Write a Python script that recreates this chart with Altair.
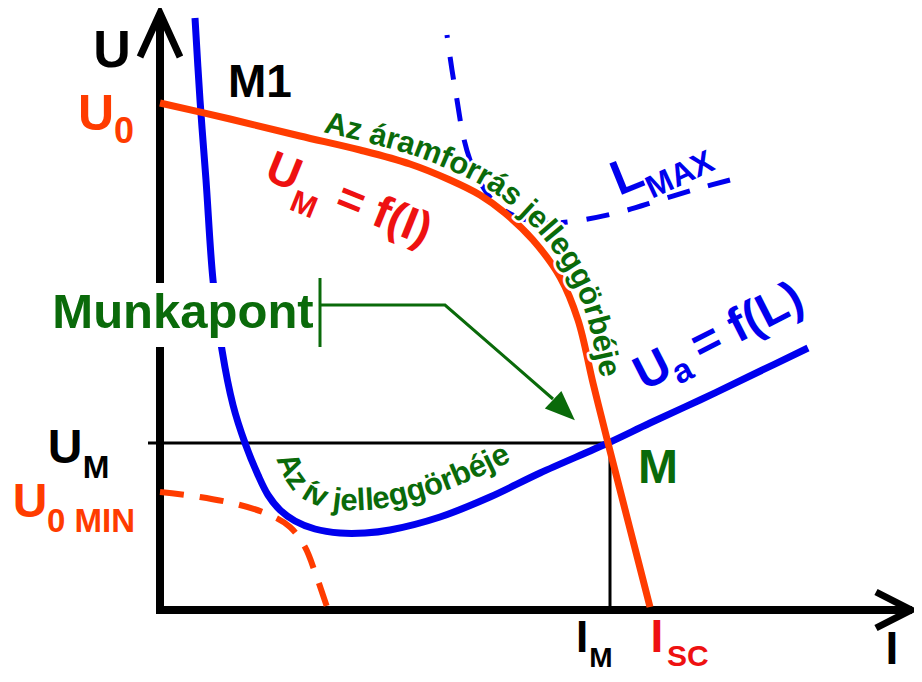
import math
import altair as alt
import pandas as pd

# ---------------- data (schematic units: I = current, U = voltage) ----------------
# power-source characteristic U_M = f(I)
src_I = [0, 70, 140, 200, 250, 290, 320, 345, 373, 400, 418, 433, 448, 469, 490]
src_U = [507, 491, 474, 460, 446, 430, 415, 397, 370, 333, 290, 227, 167, 85, 3]
# arc characteristic U_a = f(L)
arc_I = [35, 40, 46, 53, 62, 73, 85, 98, 108, 120, 135, 155, 180, 205, 230, 280, 330, 380, 448, 490, 540, 590, 648]
arc_U = [592, 510, 430, 330, 260, 205, 167, 135, 115, 100, 89, 81, 77, 77, 80, 93, 113, 137, 167, 187, 210, 234, 262]
# dashed: source characteristic at U0 MIN
u0min_I = [0, 40, 80, 110, 130, 145, 156, 168]
u0min_U = [118, 113, 105, 95, 83, 63, 35, 0]
# dashed: arc characteristic at L_MAX
lmax_I = [287, 292, 297, 303, 310, 320, 335, 355, 383, 415, 460, 500, 540, 570]
lmax_U = [575, 540, 510, 475, 450, 428, 407, 394, 387, 389, 398, 410, 422, 430]
# working point M
work_I = 448
work_U = 167

X0, X1 = -152, 754
Y0, Y1 = -64, 602
W, H = 906, 666
FONT = "Liberation Sans, Arial, sans-serif"
GREEN = "#0a6a0a"
BLUE = "#0000ee"
ORANGE = "#ff3c00"
RED = "#ee1111"

xs = alt.Scale(domain=[X0, X1], nice=False, zero=False)
ys = alt.Scale(domain=[Y0, Y1], nice=False, zero=False)


def line_layer(I, U, color, width, dash=None, interp="linear", cap="butt", dash_offset=None):
    df = pd.DataFrame({"I": I, "U": U, "o": list(range(len(I)))})
    kw = dict(color=color, strokeWidth=width, interpolate=interp, strokeCap=cap, strokeJoin="miter")
    if dash:
        kw["strokeDash"] = dash
    if dash_offset is not None:
        kw["strokeDashOffset"] = dash_offset
    return alt.Chart(df).mark_line(**kw).encode(
        x=alt.X("I:Q", scale=xs, axis=None),
        y=alt.Y("U:Q", scale=ys, axis=None),
        order="o:Q",
    )


def text_layer(rows, align="center", halo=False):
    df = pd.DataFrame(rows, columns=["I", "U", "t", "c", "s", "a"])
    kw = dict(align=align, baseline="alphabetic", font=FONT, fontWeight="bold")
    if halo:
        kw.update(stroke="white", strokeWidth=5, strokeJoin="round")
    return alt.Chart(df).mark_text(**kw).encode(
        x=alt.X("I:Q", scale=xs, axis=None),
        y=alt.Y("U:Q", scale=ys, axis=None),
        text=alt.Text("t:N"),
        color=alt.Color("c:N", scale=None),
        size=alt.Size("s:Q", scale=None),
        angle=alt.Angle("a:Q", scale=None),
    )


def px(x, y):
    """page pixel -> data units"""
    return x - 160, 610 - y


# ---------- geometry helpers ----------
def catmull(pts, n=16):
    P = [pts[0]] + pts + [pts[-1]]
    out = []
    for i in range(1, len(P) - 2):
        p0, p1, p2, p3 = P[i - 1], P[i], P[i + 1], P[i + 2]
        for k in range(n):
            t = k / n
            t2, t3 = t * t, t * t * t
            c = []
            for j in range(2):
                c.append(0.5 * (2 * p1[j] + (-p0[j] + p2[j]) * t
                                + (2 * p0[j] - 5 * p1[j] + 4 * p2[j] - p3[j]) * t2
                                + (-p0[j] + 3 * p1[j] - 3 * p2[j] + p3[j]) * t3))
            out.append(tuple(c))
    out.append(pts[-1])
    return out


def curve_len(I, U):
    d = catmull([(i, -u) for i, u in zip(I, U)], 24)
    return sum(math.hypot(d[k][0] - d[k - 1][0], d[k][1] - d[k - 1][1]) for k in range(1, len(d)))


WID = {" ": 278, "A": 722, "z": 500, "á": 556, "r": 389, "a": 556, "m": 889, "f": 333,
       "o": 611, "s": 556, "j": 278, "e": 556, "l": 278, "g": 611, "ö": 611, "b": 611,
       "é": 556, "í": 278, "v": 556}


def text_on_curve(I, U, d, text, fs, start, end, color):
    pts = [(i, -u) for i, u in zip(I, U)]
    dense = catmull(pts, 24)
    off = []
    for k in range(len(dense)):
        a = dense[max(k - 1, 0)]
        b = dense[min(k + 1, len(dense) - 1)]
        tx, ty = b[0] - a[0], b[1] - a[1]
        nn = math.hypot(tx, ty) or 1
        nx, ny = ty / nn, -tx / nn
        off.append((dense[k][0] + d * nx, dense[k][1] + d * ny))
    cum = [0.0]
    for k in range(1, len(off)):
        cum.append(cum[-1] + math.hypot(off[k][0] - off[k - 1][0], off[k][1] - off[k - 1][1]))
    s0 = next(cum[k] for k in range(len(off)) if start(off[k][0] + 160, off[k][1] + 610))
    s1 = next(cum[k] for k in range(len(off)) if end(off[k][0] + 160, off[k][1] + 610))
    widths = [WID.get(ch, 556) * fs / 1000 for ch in text]
    scale = (s1 - s0) / sum(widths)
    rows = []
    acc = 0.0
    for ch, w in zip(text, widths):
        s = s0 + (acc + w / 2) * scale
        acc += w
        if ch == " ":
            continue
        k = max(1, min(len(cum) - 1, next((j for j in range(len(cum)) if cum[j] >= s), len(cum) - 1)))
        f = (s - cum[k - 1]) / ((cum[k] - cum[k - 1]) or 1)
        x = off[k - 1][0] + f * (off[k][0] - off[k - 1][0])
        y = off[k - 1][1] + f * (off[k][1] - off[k - 1][1])
        ang = math.degrees(math.atan2(off[k][1] - off[k - 1][1], off[k][0] - off[k - 1][0])) % 360
        rows.append((x, -y, ch, color, fs, ang))
    return rows


layers = []

# axes
layers.append(line_layer([0, 0], [-4, 596], "black", 8))
layers.append(line_layer([-4, 752], [0, 0], "black", 8))
layers.append(line_layer([-20, 0, 20], [553, 597, 553], "black", 7))
layers.append(line_layer([716, 751, 716], [18, 0, -18], "black", 7))

# reference lines of the working point
layers.append(line_layer([-12, work_I], [work_U, work_U], "black", 3))
layers.append(line_layer([work_I + 2, work_I + 2], [work_U, 0], "black", 3))

# curves
layers.append(line_layer(arc_I, arc_U, BLUE, 7, interp="catmull-rom"))
layers.append(line_layer(u0min_I, u0min_U, ORANGE, 6, dash=[24, 16], interp="catmull-rom"))
L_lmax = curve_len(lmax_I, lmax_U)
layers.append(line_layer(lmax_I, lmax_U, BLUE, 5, dash=[23, 19], interp="catmull-rom",
                         dash_offset=round((23 - L_lmax) % 42, 1)))
layers.append(line_layer(src_I, src_U, ORANGE, 7, interp="catmull-rom"))

# white box behind "Munkapont"
box = pd.DataFrame({"I": [-115], "I2": [158], "U": [263], "U2": [327]})
layers.append(alt.Chart(box).mark_rect(color="white").encode(
    x=alt.X("I:Q", scale=xs, axis=None), x2="I2:Q",
    y=alt.Y("U:Q", scale=ys, axis=None), y2="U2:Q"))

# green pointer
layers.append(line_layer([160, 160], [332, 263], GREEN, 3))
layers.append(line_layer([160, 285, 393], [305, 305, 211], GREEN, 3))
tri = pd.DataFrame({"I": [404], "U": [200]})
layers.append(alt.Chart(tri).mark_point(shape="M0,-1L0.8,1L-0.8,1Z", filled=True, size=900,
                                        color=GREEN, opacity=1, angle=133.5).encode(
    x=alt.X("I:Q", scale=xs, axis=None), y=alt.Y("U:Q", scale=ys, axis=None)))

# curved labels
src_txt = text_on_curve(src_I, src_U, 9, "Az áramforrás jelleggörbéje", 31,
                        lambda x, y: x >= 321, lambda x, y: y >= 376, GREEN)
layers.append(text_layer(src_txt, halo=True))
layers.append(text_layer(src_txt))
arc_txt = text_on_curve(arc_I, arc_U, 23, "Az ív jelleggörbéje", 31,
                        lambda x, y: y >= 458, lambda x, y: x >= 510, GREEN)
layers.append(text_layer(arc_txt))


def lab(x, y, t, c, s, a=0):
    i, u = px(x, y)
    return (i, u, t, c, s, a)


center_rows = [
    lab(112, 67, "U", "black", 52),
    lab(260, 97, "M1", "black", 46),
    lab(96, 130, "U", ORANGE, 50),
    lab(124, 143, "0", ORANGE, 36),
    lab(183, 328, "Munkapont", GREEN, 49),
    lab(65, 463, "U", "black", 48),
    lab(96, 478, "M", "black", 32),
    lab(30, 517, "U", ORANGE, 48),
    lab(658, 483, "M", GREEN, 48),
    lab(582, 652, "I", "black", 44),
    lab(601, 667, "M", "black", 28),
    lab(657, 652, "I", RED, 46),
    lab(892, 664, "I", "black", 46),
]
left_rows = [
    lab(47, 532, "0 MIN", ORANGE, 33),
    lab(667, 666, "SC", RED, 30),
    lab(263, 179, "U", RED, 46, 22),
    lab(288, 209, "M", RED, 31, 22),
    lab(333, 209, "= f(I)", RED, 46, 22),
    lab(619, 196, "L", BLUE, 49, 338),
    lab(652, 199, "MAX", BLUE, 32, 335),
    lab(644, 391, "U", BLUE, 48, 333),
    lab(679, 385, "a", BLUE, 34, 333),
    lab(701, 362, "= f(L)", BLUE, 48, 333),
]
layers.append(text_layer(center_rows, "center"))
layers.append(text_layer(left_rows, "left"))

chart = alt.layer(*layers).properties(
    width=W, height=H, padding=0, autosize=alt.AutoSizeParams(type="none"),
    background="white",
).configure_view(stroke=None)

chart.save("out.html", embed_options={"renderer": "svg", "actions": False})
